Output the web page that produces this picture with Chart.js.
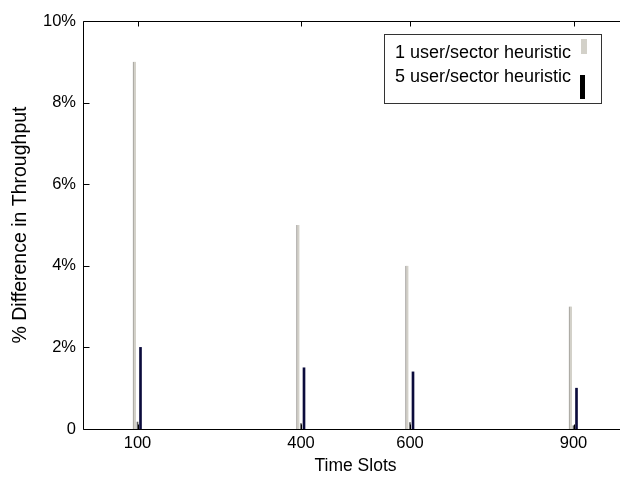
<!DOCTYPE html>
<html>
<head>
<meta charset="utf-8">
<script src="https://cdn.jsdelivr.net/npm/chart.js@4.4.1/dist/chart.umd.min.js"></script>
<style>
  html, body { margin: 0; padding: 0; background: #fff; overflow: hidden; }
  canvas { display: block; }
</style>
</head>
<body>
<canvas id="chart" width="632" height="477"></canvas>
<script>
// Time slots on the x axis and the throughput gain (in %) per series
const timeSlots = [100, 400, 600, 900];
const oneUserHeuristic = [9.0, 5.0, 4.0, 3.0];
const residualGain = [0.17, 0.13, 0.16, 0.08];
const fiveUserHeuristic = [2.0, 1.5, 1.4, 1.0];
const seriesLabels = ['1 user/sector heuristic', '5 user/sector heuristic'];
const yTickValues = [0, 2, 4, 6, 8, 10];
const xTickValues = [100, 400, 600, 900];

const FONT = 'Liberation Sans, Arial, sans-serif';
const TICK_SIZE = 16.5;

function points(values) {
  return timeSlots.map((t, i) => ({ x: t, y: values[i] }));
}

// Axis frame with inward tick marks on all four sides
const framePlugin = {
  id: 'frame',
  afterDraw(chart) {
    const { ctx, chartArea: a, scales } = chart;
    const x = scales.x, y = scales.y;
    ctx.save();
    ctx.strokeStyle = '#000';
    ctx.lineWidth = 1;
    ctx.beginPath();
    const L = Math.round(a.left) + 0.5, R = Math.round(a.right) + 0.5;
    const T = Math.round(a.top) + 0.5, B = Math.round(a.bottom) + 0.5;
    ctx.moveTo(L, T); ctx.lineTo(R, T); ctx.lineTo(R, B); ctx.lineTo(L, B); ctx.closePath();
    xTickValues.forEach(v => {
      const px = Math.round(x.getPixelForValue(v)) + 0.5;
      ctx.moveTo(px, B); ctx.lineTo(px, B - 5);
      ctx.moveTo(px, T); ctx.lineTo(px, T + 5);
    });
    yTickValues.forEach(v => {
      const py = Math.round(y.getPixelForValue(v)) + 0.5;
      ctx.moveTo(L, py); ctx.lineTo(L + 6, py);
      ctx.moveTo(R, py); ctx.lineTo(R - 6, py);
    });
    ctx.stroke();
    ctx.restore();
  }
};

// Boxed legend with labels on the left and colour keys on the right
const boxLegendPlugin = {
  id: 'boxLegend',
  afterDraw(chart) {
    const { ctx } = chart;
    ctx.save();
    ctx.fillStyle = '#fff';
    ctx.fillRect(384, 34, 217, 69);
    ctx.strokeStyle = '#333';
    ctx.lineWidth = 1;
    ctx.strokeRect(384.5, 34.5, 217, 69);
    ctx.fillStyle = '#000';
    ctx.font = '18px ' + FONT;
    ctx.textBaseline = 'middle';
    ctx.textAlign = 'left';
    ctx.fillText(seriesLabels[0], 395, 53);
    ctx.fillText(seriesLabels[1], 395, 77);
    ctx.fillStyle = '#d3d1c9';
    ctx.fillRect(581, 39, 6, 15);
    ctx.fillStyle = '#000';
    ctx.fillRect(580, 75, 5, 24);
    ctx.restore();
  }
};

new Chart(document.getElementById('chart'), {
  type: 'bar',
  data: {
    datasets: [
      {
        label: seriesLabels[0],
        data: points(oneUserHeuristic),
        backgroundColor: '#d3d1c9',
        borderColor: '#9c9995',
        borderWidth: { left: 1, right: 0, top: 0, bottom: 0 },
        borderSkipped: false,
        barThickness: 3,
        maxBarThickness: 3
      },
      {
        label: 'residual',
        data: points(residualGain),
        backgroundColor: '#5a5a5a',
        barThickness: 3,
        maxBarThickness: 1
      },
      {
        label: seriesLabels[1],
        data: points(fiveUserHeuristic),
        backgroundColor: '#0b0b3c',
        barThickness: 3,
        maxBarThickness: 2
      }
    ]
  },
  options: {
    responsive: false,
    animation: false,
    devicePixelRatio: 1,
    layout: { padding: { top: 21, right: 4, left: 0, bottom: 0 } },
    plugins: {
      legend: { display: false },
      tooltip: { enabled: false }
    },
    scales: {
      x: {
        type: 'linear',
        min: 0,
        max: 1000,
        offset: false,
        grid: { display: false, drawTicks: false, offset: false },
        border: { display: false },
        afterBuildTicks: s => { s.ticks = xTickValues.map(v => ({ value: v })); },
        afterFit: s => { s.height = 48; },
        ticks: {
          color: '#000',
          padding: 5,
          maxRotation: 0,
          font: { family: FONT, size: TICK_SIZE },
          callback: v => String(v)
        },
        title: {
          display: true,
          text: 'Time Slots',
          color: '#000',
          padding: { top: 0, bottom: 0 },
          font: { family: FONT, size: 17.5 }
        }
      },
      y: {
        min: 0,
        max: 10,
        grid: { display: false, drawTicks: false },
        border: { display: false },
        afterBuildTicks: s => { s.ticks = yTickValues.map(v => ({ value: v })); },
        afterFit: s => { s.width = 83; },
        ticks: {
          color: '#000',
          padding: 7,
          font: { family: FONT, size: TICK_SIZE },
          callback: v => (v === 0 ? '0' : v + '%')
        },
        title: {
          display: true,
          text: '% Difference in Throughput',
          color: '#000',
          padding: { top: 9, bottom: 0 },
          font: { family: FONT, size: 19.5 }
        }
      }
    }
  },
  plugins: [framePlugin, boxLegendPlugin]
});
</script>
</body>
</html>
